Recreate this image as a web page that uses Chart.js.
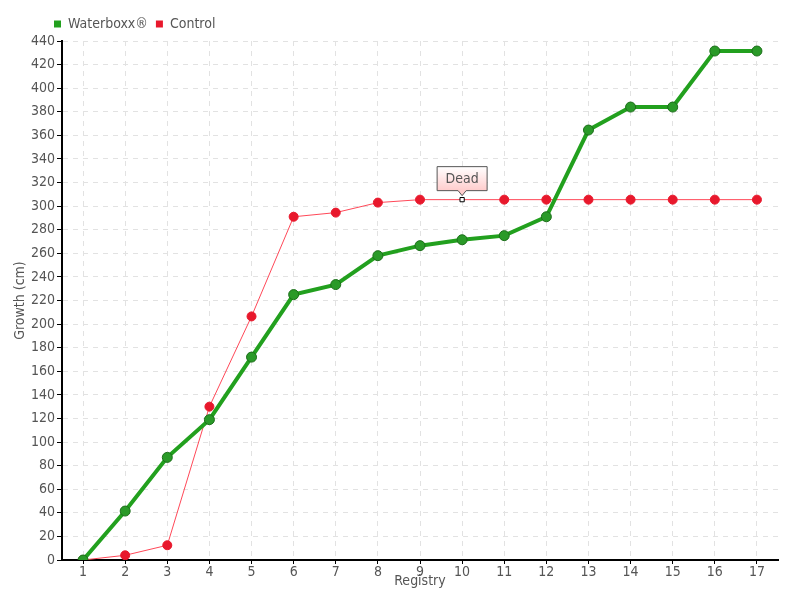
<!DOCTYPE html>
<html>
<head>
<meta charset="utf-8">
<script src="https://cdn.jsdelivr.net/npm/chart.js@4"></script>
<style>
  html, body { margin: 0; padding: 0; background: #fff; }
  #wrap { width: 800px; height: 600px; }
</style>
</head>
<body>
<div id="wrap"><canvas id="growthChart" width="800" height="600"></canvas></div>
<script>
const registry = ['1','2','3','4','5','6','7','8','9','10','11','12','13','14','15','16','17'];
const waterboxx = [0, 41.5, 87, 119, 172, 225, 233.5, 258, 266.5, 271.5, 275, 291, 364.5, 384, 384, 431.5, 431.5];
const control = [0, 4, 12.5, 130, 206.5, 291, 294.5, 303, 305.5, 305.5, 305.5, 305.5, 305.5, 305.5, 305.5, 305.5, 305.5];
const deadIndex = 9;
const deadLabel = 'Dead';

const FONT = '"Liberation Sans Narrow", "DejaVu Sans Condensed", sans-serif';

// red points, the "Dead" one is a small white square
const ctrlStyle = control.map((v, i) => i === deadIndex ? 'rect' : 'circle');
const ctrlRadius = control.map((v, i) => i === deadIndex ? 3 : 4.5);
const ctrlFill = control.map((v, i) => i === deadIndex ? '#ffffff' : '#e8182c');
const ctrlBorder = control.map((v, i) => i === deadIndex ? '#000000' : '#e8182c');

// callout box above the dead point
const deadCallout = {
    id: 'deadCallout',
    afterDatasetsDraw(chart) {
        const pt = chart.getDatasetMeta(1).data[deadIndex];
        if (!pt) return;
        const ctx = chart.ctx;
        const w = 50, h = 24, tip = 6;
        const x0 = pt.x - w / 2, y1 = pt.y - 9, y0 = y1 - h;
        ctx.save();
        const g = ctx.createLinearGradient(0, y0, 0, y1);
        g.addColorStop(0, '#ffffff');
        g.addColorStop(1, '#ffcccc');
        ctx.beginPath();
        ctx.moveTo(x0, y0);
        ctx.lineTo(x0 + w, y0);
        ctx.lineTo(x0 + w, y1);
        ctx.lineTo(pt.x + tip / 2 + 1, y1);
        ctx.lineTo(pt.x, y1 + tip - 1);
        ctx.lineTo(pt.x - tip / 2 - 1, y1);
        ctx.lineTo(x0, y1);
        ctx.closePath();
        ctx.fillStyle = g;
        ctx.fill();
        ctx.strokeStyle = '#555';
        ctx.lineWidth = 1;
        ctx.stroke();
        ctx.fillStyle = '#555';
        ctx.font = '14px ' + FONT;
        ctx.textAlign = 'center';
        ctx.textBaseline = 'middle';
        ctx.fillText(deadLabel, pt.x, y0 + h / 2 + 1);
        ctx.restore();
    }
};

// push the legend in line with the axis, as in the original
const legendShift = {
    id: 'legendShift',
    afterLayout(chart) {
        chart.legend.left += 46;
        chart.legend.right += 46;
    }
};

const ctx = document.getElementById('growthChart').getContext('2d');
new Chart(ctx, {
    type: 'line',
    data: {
        labels: registry,
        datasets: [
            {
                label: 'Waterboxx®',
                data: waterboxx,
                borderColor: '#22a01e',
                backgroundColor: '#22a01e',
                borderWidth: 4,
                pointRadius: 5,
                pointBackgroundColor: '#2a9a28',
                pointBorderColor: '#1c6e1a',
                pointBorderWidth: 1,
                tension: 0
            },
            {
                label: 'Control',
                data: control,
                borderColor: '#ff4858',
                backgroundColor: '#e8182c',
                borderWidth: 1,
                pointStyle: ctrlStyle,
                pointRadius: ctrlRadius,
                pointBackgroundColor: ctrlFill,
                pointBorderColor: ctrlBorder,
                pointBorderWidth: 1,
                tension: 0
            }
        ]
    },
    options: {
        responsive: false,
        animation: false,
        layout: { padding: { left: 0, right: 22, top: 9, bottom: 0 } },
        scales: {
            x: {
                offset: true,
                grid: { color: '#e2e2e2', tickColor: '#000', tickLength: 4, offset: false },
                border: { color: '#000', width: 2, dash: [5, 5] },
                ticks: { color: '#555', font: { family: FONT, size: 14 }, padding: 0 },
                title: { display: true, text: 'Registry', color: '#555', font: { family: FONT, size: 14 }, padding: { top: 0, bottom: 10 } },
                afterFit(s) { s.height = 40; }
            },
            y: {
                min: 0,
                max: 440,
                ticks: { stepSize: 20, color: '#555', font: { family: FONT, size: 14 }, padding: 2 },
                grid: { color: '#e2e2e2', tickColor: '#000', tickLength: 5 },
                border: { color: '#000', width: 2, dash: [5, 5] },
                title: { display: true, text: 'Growth (cm)', color: '#555', font: { family: FONT, size: 14 }, padding: { top: 12, bottom: 0 } },
                afterFit(s) { s.width = 62; }
            }
        },
        plugins: {
            legend: {
                align: 'start',
                labels: {
                    color: '#555',
                    font: { family: FONT, size: 14 },
                    boxWidth: 7,
                    boxHeight: 7,
                    padding: 8,
                    generateLabels(chart) {
                        return Chart.defaults.plugins.legend.labels.generateLabels(chart)
                            .map(item => Object.assign(item, { lineWidth: 0 }));
                    }
                }
            },
            tooltip: { enabled: false }
        }
    },
    plugins: [deadCallout, legendShift]
});
</script>
</body>
</html>
